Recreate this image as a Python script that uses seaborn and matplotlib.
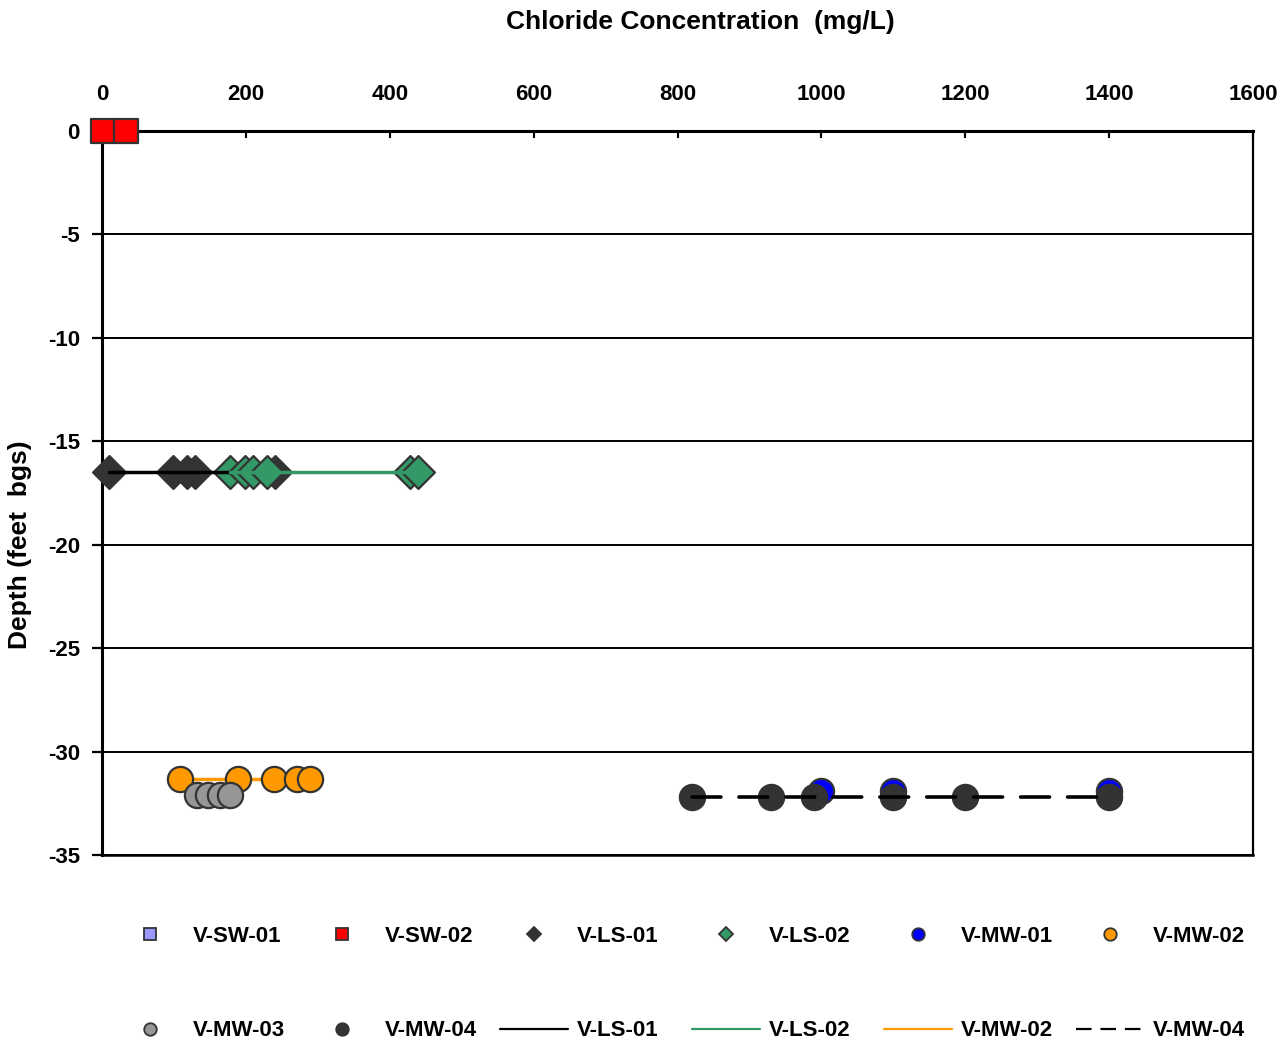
import matplotlib
matplotlib.use("Agg")
import matplotlib.pyplot as plt
import seaborn as sns
import pandas as pd
from matplotlib.lines import Line2D

# ---------------- data ----------------
sw01_x = []
sw01_y = []
sw02_x = [2, 33]
sw02_y = [0, 0]
ls01_x = [10, 99, 118, 129, 240]
ls01_y = [-16.5, -16.5, -16.5, -16.5, -16.5]
ls02_x = [178, 199, 210, 229, 428, 439]
ls02_y = [-16.5, -16.5, -16.5, -16.5, -16.5, -16.5]
mw01_x = [1000, 1100, 1400]
mw01_y = [-31.9, -31.9, -31.9]
mw02_x = [108, 189, 239, 271, 289]
mw02_y = [-31.35, -31.35, -31.35, -31.35, -31.35]
mw03_x = [132, 148, 164, 178]
mw03_y = [-32.1, -32.1, -32.1, -32.1]
mw04_x = [820, 930, 990, 1100, 1200, 1400]
mw04_y = [-32.2, -32.2, -32.2, -32.2, -32.2, -32.2]

ls01_line_x = [10, 178]
ls01_line_y = [-16.5, -16.5]
ls02_line_x = [178, 428]
ls02_line_y = [-16.5, -16.5]
mw02_line_x = [108, 289]
mw02_line_y = [-31.35, -31.35]
mw04_line_x = [820, 1400]
mw04_line_y = [-32.2, -32.2]

x_ticks = [0, 200, 400, 600, 800, 1000, 1200, 1400, 1600]
y_ticks = [-35, -30, -25, -20, -15, -10, -5, 0]

# ---------------- style ----------------
sns.set_theme(style="white")
plt.rcParams["font.family"] = ["Liberation Sans", "DejaVu Sans"]
plt.rcParams["axes.unicode_minus"] = False
plt.rcParams["text.color"] = "black"
plt.rcParams["xtick.color"] = "black"
plt.rcParams["ytick.color"] = "black"
plt.rcParams["axes.labelcolor"] = "black"

FS = 16
EDGE = "#333333"
C_SW01 = "#9999FF"
C_SW02 = "#FF0000"
C_LS01 = "#333333"
C_LS02 = "#339966"
C_MW01 = "#0000FF"
C_MW02 = "#FF9900"
C_MW03 = "#969696"
C_MW04 = "#333333"

fig = plt.figure(figsize=(12.86, 10.45), dpi=100)
ax = fig.add_axes([102/1286, 1-855/1045, (1253-102)/1286, (855-131)/1045])

# markers
series = [
    (sw01_x, sw01_y, "s", 300, C_SW01),
    (sw02_x, sw02_y, "s", 300, C_SW02),
    (ls01_x, ls01_y, "D", 280, C_LS01),
    (ls02_x, ls02_y, "D", 280, C_LS02),
    (mw01_x, mw01_y, "o", 330, C_MW01),
    (mw02_x, mw02_y, "o", 330, C_MW02),
    (mw03_x, mw03_y, "o", 330, C_MW03),
    (mw04_x, mw04_y, "o", 330, C_MW04),
]
for i, (xs, ys, mk, s, c) in enumerate(series):
    if len(xs) == 0:
        continue
    df = pd.DataFrame({"x": xs, "y": ys})
    sns.scatterplot(data=df, x="x", y="y", marker=mk, s=s, color=c,
                    edgecolor=EDGE, linewidth=1.6, ax=ax, legend=False,
                    clip_on=False, zorder=3 + i * 0.1)

# lines
def draw_line(xs, ys, color, lw, z, dashes=None):
    df = pd.DataFrame({"x": xs, "y": ys})
    sns.lineplot(data=df, x="x", y="y", color=color, lw=lw, ax=ax,
                 sort=False, estimator=None, legend=False, zorder=z)
    line = ax.get_lines()[-1]
    if dashes is not None:
        line.set_dashes(dashes)
        line.set_dash_capstyle("round")
    return line

draw_line(ls01_line_x, ls01_line_y, "black", 2.5, 5)
draw_line(ls02_line_x, ls02_line_y, C_LS02, 2.5, 5.1)
draw_line(mw02_line_x, mw02_line_y, C_MW02, 2.5, 3.45)
draw_line(mw04_line_x, mw04_line_y, "black", 2.6, 5.3, dashes=(8, 5))

# axes
ax.set_xlim(0, 1600)
ax.set_ylim(-35, 0)
ax.set_xticks(x_ticks)
ax.set_yticks(y_ticks)
ax.set_xticklabels([str(t) for t in x_ticks], fontsize=FS, fontweight="bold")
ax.set_yticklabels([str(t) for t in y_ticks], fontsize=FS, fontweight="bold")
ax.xaxis.tick_top()
ax.tick_params(axis="x", direction="in", length=5, width=1.5, pad=19, colors="black")
ax.tick_params(axis="y", direction="out", length=7, width=1.6, pad=9, colors="black", left=True)
ax.set_xlabel("")
ax.set_ylabel("")
ax.yaxis.grid(True, color="black", lw=1.4)
ax.xaxis.grid(False)
for sp in ax.spines.values():
    sp.set_color("black")
    sp.set_visible(True)
ax.spines["left"].set_linewidth(2.2)
ax.spines["top"].set_linewidth(2.2)
ax.spines["right"].set_linewidth(1.6)
ax.spines["bottom"].set_linewidth(1.8)

fig.text(700/1286, 1-22/1045, "Chloride Concentration  (mg/L)", ha="center", va="center",
         fontsize=19, fontweight="bold")
fig.text(20/1286, 1-545/1045, "Depth (feet  bgs)", ha="center", va="center",
         rotation=90, fontsize=19, fontweight="bold")

# legend: one legend per column, placed on a uniform 192 px grid
def mk_handle(marker, color, ms):
    return Line2D([], [], marker=marker, linestyle="none", markersize=ms,
                  markerfacecolor=color, markeredgecolor=EDGE, markeredgewidth=1.3)

row1 = [
    (mk_handle("s", C_SW01, 9), "V-SW-01"),
    (mk_handle("s", C_SW02, 9), "V-SW-02"),
    (mk_handle("D", C_LS01, 7), "V-LS-01"),
    (mk_handle("D", C_LS02, 7), "V-LS-02"),
    (mk_handle("o", C_MW01, 9), "V-MW-01"),
    (mk_handle("o", C_MW02, 9), "V-MW-02"),
]
dashed = Line2D([], [], color="black", lw=1.6)
dashed.set_dashes((7, 4))
row2 = [
    (mk_handle("o", C_MW03, 9), "V-MW-03"),
    (mk_handle("o", C_MW04, 9), "V-MW-04"),
    (Line2D([], [], color="black", lw=1.6), "V-LS-01"),
    (Line2D([], [], color=C_LS02, lw=1.6), "V-LS-02"),
    (Line2D([], [], color=C_MW02, lw=1.6), "V-MW-02"),
    (dashed, "V-MW-04"),
]
for j, (a, b) in enumerate(zip(row1, row2)):
    x0 = (116 + 192 * j) / 1286
    fig.legend([a[0], b[0]], [a[1], b[1]], loc="upper left",
               bbox_to_anchor=(x0, 1 - 926/1045), frameon=False,
               prop={"size": FS, "weight": "bold"}, handlelength=3.06,
               handletextpad=0.4, labelspacing=3.3, borderpad=0, borderaxespad=0)

fig.savefig("out.png", dpi=100)
